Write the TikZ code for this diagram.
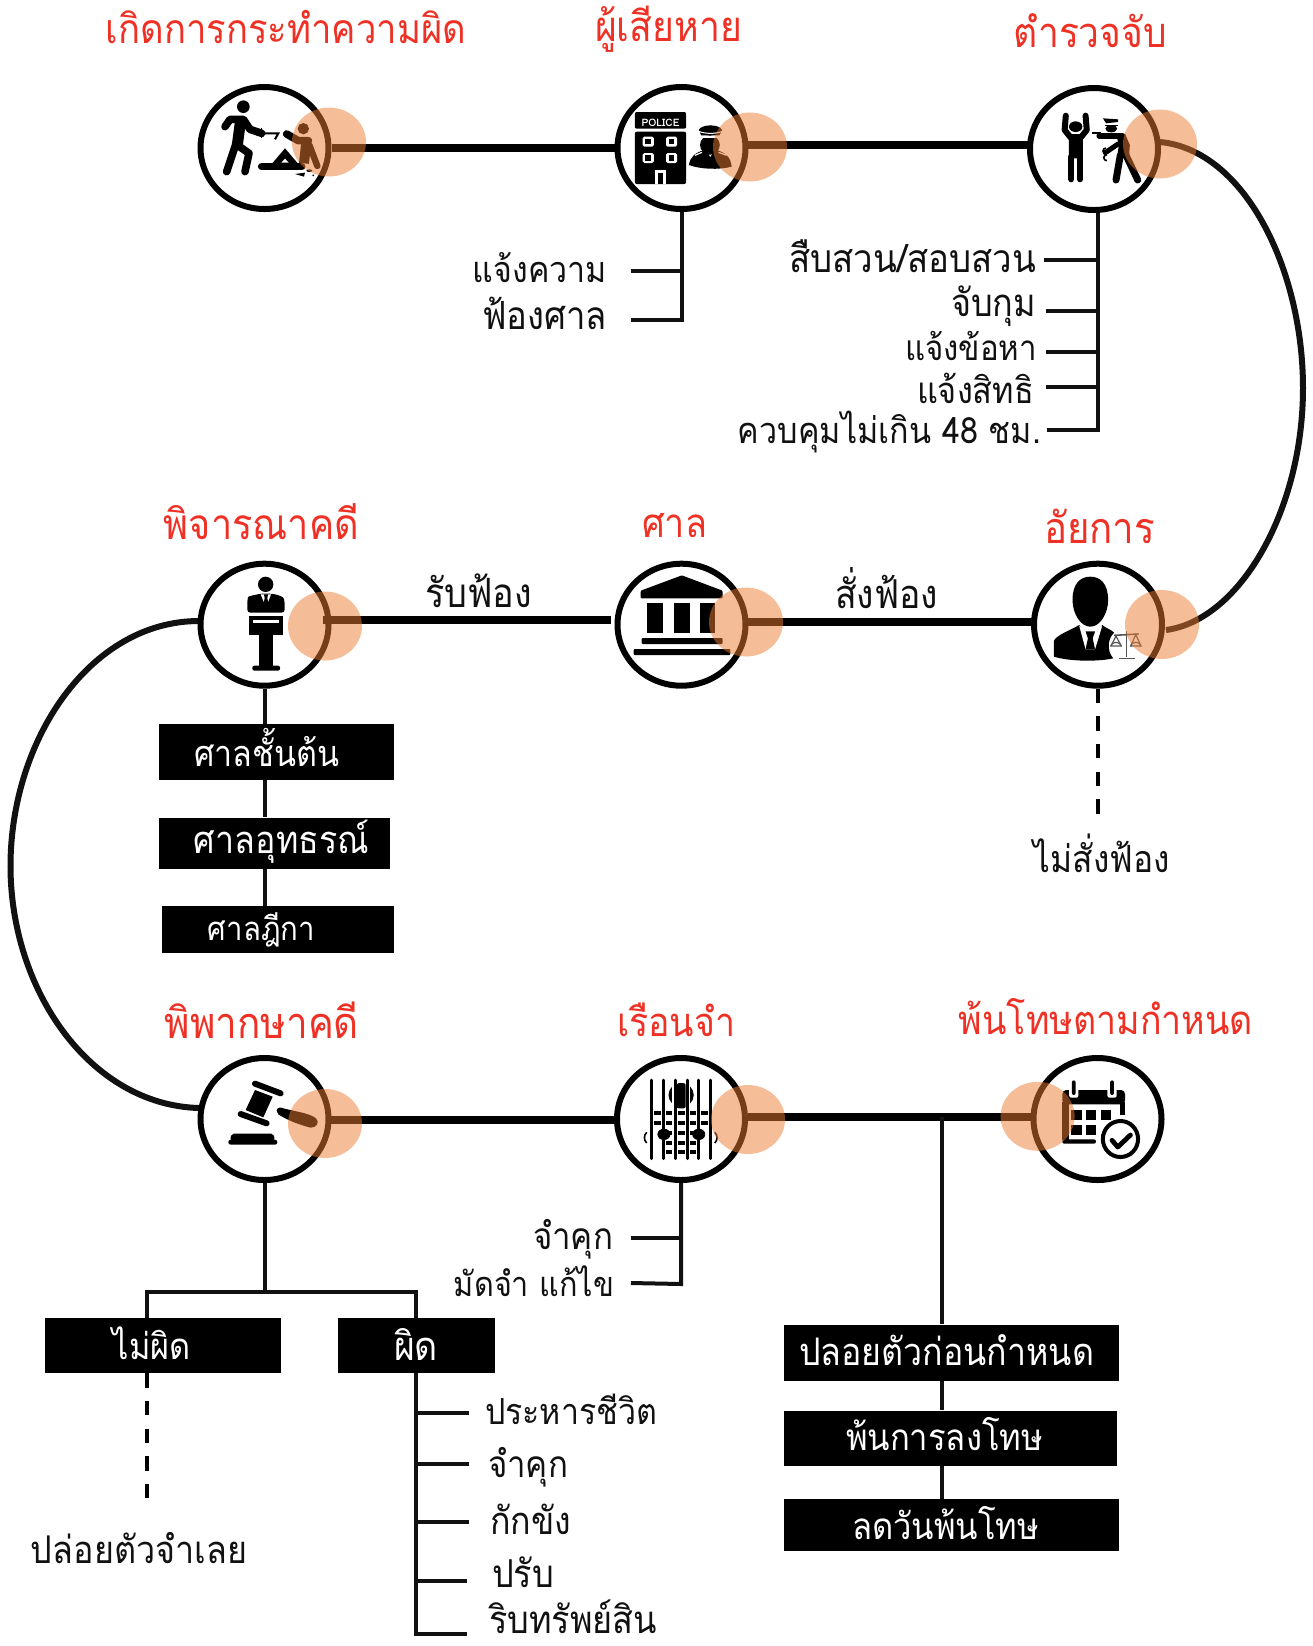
\documentclass[tikz,border=0pt]{standalone}
\usepackage{fontspec}
\usepackage{graphicx}
\setmainfont[Script=Thai]{Loma}
\usetikzlibrary{shapes.geometric,backgrounds}
\definecolor{titlered}{HTML}{EE3124}
\definecolor{ink}{HTML}{111111}
\definecolor{halo}{HTML}{ED7D31}
\definecolor{scalegray}{HTML}{555555}
\newlength{\pxu}\setlength{\pxu}{0.5pt}
\newcommand{\tw}[2]{\resizebox{#1\pxu}{!}{\scalebox{1}[1.12]{#2}}}
\tikzset{
  crop3/.style 2 args={shift={(#1,#2)},x=0.16667pt,y=-0.16667pt},
  cropa/.style 2 args={shift={(#1,#2)},x=0.19771pt,y=-0.16667pt},
  cropb/.style 2 args={shift={(#1,#2)},x=0.19135pt,y=-0.16667pt},
  ring/.style={ellipse,draw=black,line width=3pt,fill=white,minimum width=128\pxu,minimum height=122\pxu,inner sep=0pt},
  glow/.style={ellipse,fill=halo,fill opacity=0.5,inner sep=0pt,minimum width=74\pxu,minimum height=69\pxu},
  mainline/.style={line width=4pt,draw=black},
  arcline/.style={line width=3pt,draw=ink},
  thin/.style={line width=2pt,draw=ink},
  dashline/.style={line width=2pt,draw=black,dash pattern=on 7.2pt off 6.6pt},
  ttl/.style={text=titlered,inner sep=0pt},
  lbl/.style={text=ink,inner sep=0pt},
  bar/.style={fill=black,inner sep=0pt},
  bartext/.style={text=white,inner sep=0pt},
}
\begin{document}
\begin{tikzpicture}[x=0.5pt,y=-0.5pt]
\useasboundingbox (0,0) rectangle (1313,1646);
% rings
\node[ring] (n1) at (264.5,148) {};
\node[ring] (n2) at (681.5,148) {};
\node[ring] (n3) at (1094,149) {};
\node[ring] (n4) at (264.5,624.7) {};
\node[ring] (n5) at (681.5,624.7) {};
\node[ring] (n6) at (1098,624.7) {};
\node[ring] (n7) at (264.5,1119) {};
\node[ring] (n8) at (681,1119) {};
\node[ring] (n9) at (1097.5,1119) {};
\coordinate (s2) at (748,145.3);
\coordinate (e2) at (1030,145.3);
\coordinate (s4) at (323,620);
\coordinate (e4) at (611,620);
\coordinate (s5) at (748,622.3);
\coordinate (e5) at (1034,622.3);
\coordinate (s7) at (331,1119.7);
\coordinate (e7) at (615,1119.7);
\coordinate (s8) at (748,1117.3);
\coordinate (e8) at (1031,1117.3);
\coordinate (j8) at (941.8,1117.3);
% black boxes
\node[bar,minimum width=235\pxu,minimum height=56\pxu] (b1) at (276,752) {};
\node[bar,minimum width=231\pxu,minimum height=51\pxu] (b2) at (274,843.3) {};
\node[bar,minimum width=232\pxu,minimum height=47\pxu] (b3) at (277.6,929.4) {};
\node[bar,minimum width=236\pxu,minimum height=55\pxu] (b4) at (163,1345.5) {};
\node[bar,minimum width=157\pxu,minimum height=55\pxu] (b5) at (416.5,1345.5) {};
\node[bar,minimum width=335\pxu,minimum height=56\pxu] (b6) at (951.5,1352.8) {};
\node[bar,minimum width=333\pxu,minimum height=55\pxu] (b7) at (950.5,1438.3) {};
\node[bar,minimum width=335\pxu,minimum height=52\pxu] (b8) at (951.5,1525) {};
\node[bartext] (bt1) at (266.6,747) {\tw{145}{ศาลชั้นต้น}};
\node[bartext] (bt2) at (281.5,842) {\tw{175}{ศาลอุทธรณ์}};
\node[bartext] (bt3) at (261.5,930) {\tw{107}{ศาลฎีกา}};
\node[bartext] (bt4) at (152,1343) {\tw{78}{ไม่ผิด}};
\node[bartext] (bt5) at (416,1344) {\tw{44}{ผิด}};
\node[bartext] (bt6) at (946.5,1350) {\tw{295}{ปลอยตัวก่อนกำหนด}};
\node[bartext] (bt7) at (944.5,1434) {\tw{197}{พ้นการลงโทษ}};
\node[bartext] (bt8) at (945.5,1523) {\tw{187}{ลดวันพ้นโทษ}};
% connectors, behind rings and boxes
\begin{scope}[on background layer]
\draw[mainline] (n1.east) -- (n2.west);
\draw[mainline] (s2) -- (e2);
\draw[mainline] (s5) -- (e5);
\draw[mainline] (s7) -- (e7);
\draw[mainline] (s8) -- (e8);
\coordinate (a3) at (1160,142);
\coordinate (a6) at (1166,630);
\draw[arcline] (a3) .. controls (1245,150) and (1303,270) .. (1303,388) .. controls (1303,510) and (1240,620) .. (a6);
\coordinate (a4) at (199,621);
\coordinate (a7) at (199,1108);
\draw[arcline] (a4) .. controls (90,621) and (10.5,740) .. (10.5,866) .. controls (10.5,990) and (90,1105) .. (a7);
\coordinate (t21) at (631,271); \coordinate (t22) at (631,320);
\coordinate (k2) at (681.5,320);
\draw[thin] (n2.south) -- (k2) -- (t22);
\draw[thin] (t21) -- (t21 -| k2);
\coordinate (t31) at (1044,260); \coordinate (t32) at (1046,311); \coordinate (t33) at (1046,352); \coordinate (t34) at (1046,387); \coordinate (t35) at (1047,430);
\coordinate (k3) at (1097.5,430);
\draw[thin] (n3.south -| k3) -- (k3) -- (t35);
\draw[thin] (t31) -- (t31 -| k3);
\draw[thin] (t32) -- (t32 -| k3);
\draw[thin] (t33) -- (t33 -| k3);
\draw[thin] (t34) -- (t34 -| k3);
\coordinate (d6) at (1097.5,815);
\draw[dashline] (n6.south -| d6) -- (d6);
\draw[thin] (n4.south) -- (b1.north -| n4.south);
\draw[thin] (b1.south -| n4.south) -- (b2.north -| n4.south);
\draw[thin] (b2.south -| n4.south) -- (b3.north -| n4.south);
\coordinate (v1) at (264.5,1292);
\coordinate (vl) at (147,1292);
\coordinate (vr) at (415.6,1292);
\coordinate (d4) at (147,1499);
\draw[thin] (n7.south) -- (v1);
\draw[thin] (b4.north -| vl) -- (vl) -- (vr) -- (b5.north -| vr);
\draw[dashline] (b4.south -| d4) -- (d4);
\coordinate (p1) at (469,1413); \coordinate (p2) at (469,1464); \coordinate (p3) at (469,1522); \coordinate (p4) at (467,1581); \coordinate (p5) at (467,1634);
\draw[thin] (b5.south -| vr) -- (p5 -| vr) -- (p5);
\draw[thin] (p1 -| vr) -- (p1);
\draw[thin] (p2 -| vr) -- (p2);
\draw[thin] (p3 -| vr) -- (p3);
\draw[thin] (p4 -| vr) -- (p4);
\coordinate (j1) at (631,1238); \coordinate (j2) at (631,1283);
\draw[thin] (n8.south) -- (681,1284) -- (j2);
\draw[thin] (j1) -- (j1 -| n8.south);
\draw[thin] (j8) -- (b6.north -| j8);
\draw[thin] (b6.south -| j8) -- (b7.north -| j8);
\draw[thin] (b7.south -| j8) -- (b8.north -| j8);
\end{scope}
\draw[mainline] (s4) -- (e4);
% ---- icon 1: attack
\begin{scope}[crop3={180}{70}]
\fill (190,110) circle [radius=19];
\draw[line width=3.8pt,line cap=round,line join=round] (135,170) -- (150,148) -- (190,148) -- (210,178) -- (245,190);
\draw[line width=5.5pt,line cap=butt] (182,150) -- (172,225);
\draw[line width=3.8pt,line cap=round,line join=round] (170,215) -- (140,305);
\draw[line width=3.8pt,line cap=round,line join=round] (172,225) -- (207,250) -- (195,305);
\draw[line width=0.7pt] (245,173) -- (245,205);
\draw[line width=1pt] (245,190) -- (295,190) -- (285,208);
\fill (370,176) circle [radius=17];
\draw[line width=3.8pt,line cap=round,line join=round] (320,192) -- (355,212) -- (385,212);
\draw[line width=5pt,line cap=butt] (380,205) -- (372,280);
\draw[line width=3.2pt,line cap=round] (388,225) -- (412,288);
\draw[line width=3.8pt,line cap=round] (245,290) -- (365,290);
\fill (315,235) -- (275,282) -- (355,282) -- cycle;
\fill[white] (315,266) -- (304,278) -- (326,278) -- cycle;
\fill (345,312) -- (375,308) -- (372,320) -- cycle;
\fill (388,302) ellipse [x radius=9,y radius=4];
\fill (400,316) circle [radius=3];
\end{scope}
% ---- icon 2: police
\begin{scope}[cropa={600}{70}]
\fill[rounded corners=1pt] (88,126) rectangle (218,176);
\node[text=white,inner sep=0pt] (policeword) at (153,157) {\resizebox{38\pxu}{!}{\bfseries POLICE}};
\fill[rounded corners=1pt] (88,185) rectangle (218,342);
\foreach \wx/\wy in {122/215,181/215,122/264,181/264}{
  \fill[white,rounded corners=0.8pt] (\wx-14,\wy-15) rectangle (\wx+14,\wy+15);
  \fill (\wx-7,\wy-8) rectangle (\wx+7,\wy+8);
}
\fill[white] (138,300) rectangle (168,342);
\fill (146,308) rectangle (160,342);
\fill (278,225) ellipse [x radius=25,y radius=29];
\fill[white] (246,198) rectangle (312,204);
\fill (250,180) .. controls (255,163) and (300,160) .. (309,180) -- (302,196) -- (256,196) -- cycle;
\draw[white,line width=0.5pt] (250,184) .. controls (265,192) and (295,192) .. (309,184);
\fill (225,285) .. controls (228,260) and (240,248) .. (268,238) -- (279,262) -- (290,238) .. controls (318,248) and (330,260) .. (333,290) .. controls (300,300) and (255,298) .. (225,285) -- cycle;
\draw[white,line width=0.6pt] (240,256) -- (258,247) (320,256) -- (300,247);
\end{scope}
% ---- icon 3: arrest
\begin{scope}[cropa={600}{70}]
\fill (1203,170) ellipse [x radius=17,y radius=16];
\draw[line width=3pt,line cap=round,line join=round] (1178,137) -- (1175,180) -- (1192,205);
\draw[line width=3pt,line cap=round,line join=round] (1228,137) -- (1231,180) -- (1214,205);
\fill[rounded corners=1pt] (1186,192) rectangle (1221,265);
\draw[line width=3pt,line cap=round] (1192,260) -- (1192,328);
\draw[line width=3pt,line cap=round] (1214,260) -- (1214,328);
\fill (1272,145) -- (1310,148) -- (1310,156) -- (1280,160) -- cycle;
\fill (1277,164) rectangle (1310,169);
\fill (1293,176) ellipse [x radius=15,y radius=11];
\fill (1243,185) rectangle (1268,191);
\draw[line width=2.6pt,line cap=round] (1262,198) -- (1322,198);
\fill (1305,192) -- (1328,192) -- (1340,225) -- (1338,258) -- (1308,262) -- (1312,225) -- cycle;
\draw[line width=3.5pt,line cap=round] (1316,255) -- (1305,330);
\draw[line width=3.5pt,line cap=round] (1330,255) -- (1360,330);
\draw[line width=2.5pt,line cap=round] (1310,222) -- (1278,248);
\draw[line width=0.8pt] (1280,252) arc [start angle=90,end angle=270,x radius=8,y radius=9] (1282,272) arc [start angle=90,end angle=270,x radius=8,y radius=9];
\end{scope}
% ---- icon 4: podium
\begin{scope}[crop3={180}{550}]
\fill (257,103) circle [radius=23];
\fill[rounded corners=1.5pt] (202,188) -- (202,150) .. controls (205,138) and (225,135) .. (240,131) -- (275,131) .. controls (295,135) and (310,140) .. (314,155) -- (314,188) -- cycle;
\fill[white] (242,133) -- (258,172) -- (273,133) -- cycle;
\fill (252,133) -- (264,133) -- (262,145) -- (266,165) -- (258,175) -- (250,165) -- (254,145) -- cycle;
\fill (208,198) rectangle (308,255);
\fill[white] (220,210) rectangle (296,220);
\fill (237,255) rectangle (278,348);
\fill[rounded corners=1pt] (217,347) rectangle (300,362);
\end{scope}
% ---- icon 5: court
\begin{scope}[cropa={600}{550}]
\fill[rounded corners=0.5pt] (207,76) -- (310,122) -- (310,145) -- (103,145) -- (103,122) -- cycle;
\fill (120,160) rectangle (160,250);
\fill (187,160) rectangle (227,250);
\fill (252,160) rectangle (292,250);
\fill[rounded corners=0.5pt] (105,264) rectangle (310,282);
\fill[rounded corners=0.5pt] (85,297) rectangle (330,315);
\end{scope}
% ---- icon 6: prosecutor
\begin{scope}[cropa={600}{550}]
\fill (1195,150) .. controls (1195,100) and (1215,80) .. (1240,80) .. controls (1265,80) and (1285,100) .. (1285,150) .. controls (1285,190) and (1265,230) .. (1240,230) .. controls (1215,230) and (1195,190) .. (1195,150) -- cycle;
\fill (1148,320) -- (1148,272) .. controls (1155,255) and (1190,240) .. (1212,225) -- (1240,270) -- (1270,225) .. controls (1280,235) and (1295,240) .. (1300,248) .. controls (1285,265) and (1280,300) .. (1298,325) .. controls (1260,335) and (1190,335) .. (1148,320) -- cycle;
\fill[white] (1212,228) -- (1228,298) -- (1252,298) -- (1270,228) -- (1240,245) -- cycle;
\fill (1228,244) -- (1252,244) -- (1246,265) -- (1252,298) -- (1228,298) -- (1234,265) -- cycle;
\draw[scalegray,line width=0.8pt] (1331,243) -- (1331,322) (1312,325) -- (1352,325);
\draw[scalegray,line width=0.8pt] (1300,256) -- (1362,252);
\draw[scalegray,line width=0.6pt] (1305,258) -- (1292,288) -- (1318,288) -- cycle (1355,254) -- (1342,288) -- (1368,288) -- cycle;
\draw[scalegray,line width=0.6pt] (1292,288) arc [start angle=180,end angle=360,x radius=13,y radius=11];
\draw[scalegray,line width=0.6pt] (1342,288) arc [start angle=180,end angle=360,x radius=13,y radius=11];
\end{scope}
% ---- icon 7: gavel
\begin{scope}[crop3={180}{1045}]
\fill (225,135) -- (278,155) -- (250,217) -- (197,195) -- cycle;
\draw[line width=3pt,line cap=round] (225,116) -- (302,145);
\draw[line width=3pt,line cap=round] (182,207) -- (260,235);
\fill (290,197) .. controls (292,187) and (300,185) .. (310,190) .. controls (350,200) and (390,205) .. (408,220) .. controls (420,232) and (410,248) .. (392,248) .. controls (360,240) and (320,225) .. (295,208) -- cycle;
\fill[rounded corners=1pt] (155,266) -- (280,266) -- (285,285) -- (150,285) -- cycle;
\fill[rounded corners=1.2pt] (145,284) rectangle (292,299);
\end{scope}
% ---- icon 8: prisoner
\begin{scope}[cropb={600}{1045}]
\fill (212,150) ellipse [x radius=33,y radius=36];
\foreach \ry/\rx in {205/150,205/181,205/212,205/243,205/274,235/150,235/181,235/212,235/243,235/274,265/181,265/212,265/243,295/181,295/212,295/243,322/181,322/212,322/243}{
  \fill (\rx-9,\ry-6) rectangle (\rx+9,\ry+6);
}
\draw[line width=0.8pt] (122,262) .. controls (114,272) and (114,284) .. (122,294);
\draw[line width=0.8pt] (300,262) .. controls (308,272) and (308,284) .. (300,294);
\foreach \bx in {165,196,228,258}{ \draw[white,line width=2.6pt] (\bx,103) -- (\bx,342); }
\fill (167,268) ellipse [x radius=17,y radius=17];
\fill (258,268) ellipse [x radius=17,y radius=17];
\foreach \bx in {135,165,196,228,258,289}{ \draw[line width=1.5pt,line cap=round] (\bx,105) -- (\bx,341); }
\fill[rounded corners=1pt] (200,115) rectangle (224,190);
\end{scope}
% ---- icon 9: calendar
\begin{scope}[cropb={600}{1045}]
\fill[rounded corners=2pt] (1208,135) rectangle (1372,178);
\fill (1208,170) rectangle (1225,285);
\fill (1360,170) rectangle (1372,210);
\fill[rounded corners=1pt] (1208,283) rectangle (1296,296);
\foreach \gx/\gy in {1232/195,1270/195,1308/195,1232/240,1270/240}{ \fill (\gx,\gy) rectangle (\gx+27,\gy+29); }
\foreach \gx in {1238,1338}{
  \fill[white,rounded corners=1pt] (\gx-12,100) rectangle (\gx+12,158);
  \fill[rounded corners=1pt] (\gx-5,106) rectangle (\gx+5,150);
}
\fill[white] (1360,282) ellipse [x radius=56,y radius=64];
\draw[line width=2pt] (1360,282) ellipse [x radius=46,y radius=54];
\draw[line width=2.4pt,line cap=round,line join=round] (1338,286) -- (1353,306) -- (1386,270);
\end{scope}
% ---- orange glows
\node[glow] (g1) at (329,142) {};
\node[glow] (g2) at (750,147) {};
\node[glow] (g3) at (1160,144) {};
\node[glow] (g4) at (325,626) {};
\node[glow] (g5) at (746,622) {};
\node[glow] (g6) at (1162,624.5) {};
\node[glow] (g7) at (325,1123.5) {};
\node[glow] (g8) at (748,1119.5) {};
\node[glow] (g9) at (1037.6,1116.3) {};
% ---- titles
\node[ttl] (t1) at (286,27) {\tw{360}{เกิดการกระทำความผิด}};
\node[ttl] (t2) at (668.5,29) {\tw{147}{ผู้เสียหาย}};
\node[ttl] (t3) at (1090.5,31) {\tw{153}{ตำรวจจับ}};
\node[ttl] (t4) at (261.5,522) {\tw{195}{พิจารณาคดี}};
\node[ttl] (t5) at (674.5,526) {\tw{65}{ศาล}};
\node[ttl] (t6) at (1099.5,526) {\tw{111}{อัยการ}};
\node[ttl] (t7) at (262,1020) {\tw{194}{พิพากษาคดี}};
\node[ttl] (t8) at (676,1020) {\tw{118}{เรือนจำ}};
\node[ttl] (t9) at (1106,1017) {\tw{294}{พ้นโทษตามกำหนด}};
% ---- labels
\node[lbl] (l1) at (540,268) {\tw{134}{แจ้งความ}};
\node[lbl] (l2) at (544.5,313) {\tw{125}{ฟ้องศาล}};
\node[lbl] (l3) at (912.5,256) {\tw{247}{สืบสวน/สอบสวน}};
\node[lbl] (l4) at (993.5,306) {\tw{85}{จับกุม}};
\node[lbl] (l5) at (971,346) {\tw{132}{แจ้งข้อหา}};
\node[lbl] (l6) at (975.5,388) {\tw{117}{แจ้งสิทธิ}};
\node[lbl] (l7) at (889.5,432) {\tw{303}{ควบคุมไม่เกิน 48 ชม.}};
\node[lbl] (l8) at (478.5,591) {\tw{107}{รับฟ้อง}};
\node[lbl] (l9) at (886.5,588) {\tw{103}{สั่งฟ้อง}};
\node[lbl] (l10) at (1102,853) {\tw{136}{ไม่สั่งฟ้อง}};
\node[lbl] (l11) at (573,1239) {\tw{80}{จำคุก}};
\node[lbl] (l12) at (534,1281) {\tw{160}{มัดจำ แก้ไข}};
\node[lbl] (l13) at (139,1548) {\tw{216}{ปล่อยตัวจำเลย}};
\node[lbl] (l14) at (571,1409) {\tw{172}{ประหารชีวิต}};
\node[lbl] (l15) at (528,1467) {\tw{80}{จำคุก}};
\node[lbl] (l16) at (530.5,1519) {\tw{81}{กักขัง}};
\node[lbl] (l17) at (523,1572) {\tw{62}{ปรับ}};
\node[lbl] (l18) at (573,1617) {\tw{168}{ริบทรัพย์สิน}};
\end{tikzpicture}
\end{document}
